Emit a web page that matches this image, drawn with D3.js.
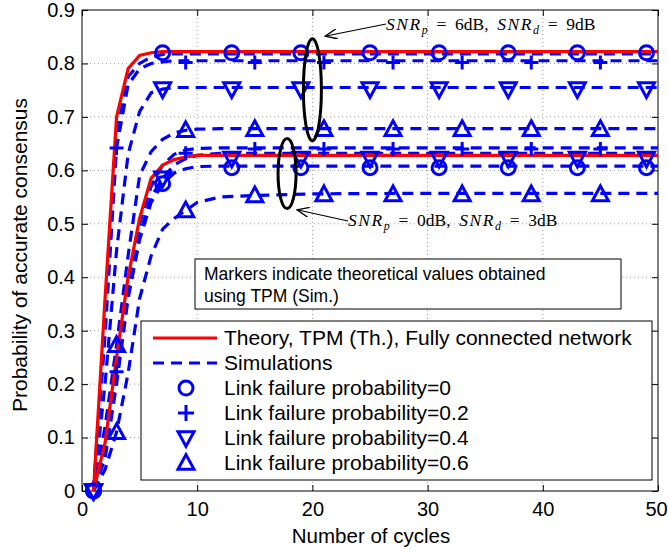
<!DOCTYPE html>
<html>
<head>
<meta charset="utf-8">
<script src="https://d3js.org/d3.v7.min.js"></script>
<style>
    body { margin: 0; background: #fff; }
    svg text { font-family: "Liberation Sans", Arial, Helvetica, sans-serif; }
    .grid line { stroke: #999; stroke-width: 1; stroke-dasharray: 1,3; }
    .math { font-family: "Liberation Serif", "DejaVu Serif", serif; }
</style>
</head>
<body>
<svg id="chart" width="668" height="554"></svg>
<script>
// cycles at which the curves are sampled
var cycles = [1, 2, 3, 4, 5, 6, 7, 8, 9, 10, 12, 15, 20, 30, 40, 50];

// theory (fully connected network)
var theoryHigh = [0, 0.36, 0.70, 0.79, 0.815, 0.82, 0.822, 0.822, 0.822, 0.822, 0.822, 0.822, 0.822, 0.822, 0.822, 0.822];
var theoryLow  = [0, 0.09, 0.25, 0.40, 0.51, 0.585, 0.61, 0.62, 0.625, 0.628, 0.628, 0.628, 0.628, 0.628, 0.628, 0.628];

// simulations, SNRp=6dB, SNRd=9dB
var simHigh0  = [0, 0.32, 0.67, 0.775, 0.80, 0.812, 0.817, 0.818, 0.818, 0.818, 0.818, 0.818, 0.818, 0.818, 0.818, 0.818];
var simHigh02 = [0, 0.29, 0.642, 0.76, 0.79, 0.80, 0.803, 0.805, 0.805, 0.805, 0.805, 0.805, 0.805, 0.805, 0.805, 0.805];
var simHigh04 = [0, 0.20, 0.45, 0.63, 0.71, 0.745, 0.752, 0.755, 0.755, 0.755, 0.755, 0.755, 0.755, 0.755, 0.755, 0.755];
var simHigh06 = [0, 0.12, 0.273, 0.44, 0.59, 0.635, 0.658, 0.67, 0.675, 0.677, 0.678, 0.678, 0.678, 0.678, 0.678, 0.678];

// simulations, SNRp=0dB, SNRd=3dB
var simLow0  = [0, 0.06, 0.20, 0.36, 0.47, 0.54, 0.575, 0.595, 0.603, 0.607, 0.608, 0.608, 0.608, 0.608, 0.608, 0.608];
var simLow02 = [0, 0.08, 0.223, 0.38, 0.50, 0.57, 0.61, 0.63, 0.638, 0.641, 0.642, 0.642, 0.642, 0.642, 0.642, 0.642];
var simLow04 = [0, 0.07, 0.21, 0.37, 0.48, 0.55, 0.585, 0.61, 0.622, 0.628, 0.632, 0.632, 0.632, 0.632, 0.632, 0.632];
var simLow06 = [0, 0.04, 0.11, 0.22, 0.36, 0.44, 0.49, 0.51, 0.525, 0.54, 0.55, 0.553, 0.556, 0.557, 0.557, 0.557];

// TPM (Sim.) markers
var markCyclesA = [1, 7, 13, 19, 25, 31, 37, 43, 49];   // circles, down-triangles
var markCyclesB = [3, 9, 15, 21, 27, 33, 39, 45];       // plus, up-triangles
var mHigh0  = [0, 0.82, 0.82, 0.82, 0.82, 0.82, 0.82, 0.82, 0.82];
var mHigh04 = [0, 0.752, 0.752, 0.752, 0.752, 0.752, 0.752, 0.752, 0.752];
var mHigh02 = [0.642, 0.802, 0.802, 0.802, 0.802, 0.802, 0.802, 0.802];
var mHigh06 = [0.273, 0.675, 0.677, 0.677, 0.677, 0.677, 0.677, 0.677];
var mLow0   = [0, 0.575, 0.605, 0.605, 0.605, 0.605, 0.605, 0.605, 0.605];
var mLow04  = [0, 0.585, 0.622, 0.622, 0.622, 0.622, 0.622, 0.622, 0.622];
var mLow02  = [0.223, 0.632, 0.64, 0.64, 0.64, 0.64, 0.64, 0.64];
var mLow06  = [0.11, 0.525, 0.553, 0.555, 0.555, 0.555, 0.555, 0.555];

var xTicks = [0, 10, 20, 30, 40, 50];
var yTicks = [0, 0.1, 0.2, 0.3, 0.4, 0.5, 0.6, 0.7, 0.8, 0.9];

var legendLabels = ["Theory, TPM (Th.), Fully connected network", "Simulations",
    "Link failure probability=0", "Link failure probability=0.2",
    "Link failure probability=0.4", "Link failure probability=0.6"];

var RED = "#ff0000", BLUE = "#0000ff";

var svg = d3.select("#chart");
var pL = 82, pR = 658, pT = 10, pB = 491;

var x = d3.scaleLinear().domain([0, 50]).range([pL, pR]);
var y = d3.scaleLinear().domain([0, 0.9]).range([pB, pT]);

// grid
var grid = svg.append("g").attr("class", "grid");
grid.selectAll(".gx").data(xTicks.slice(1, -1)).enter().append("line")
    .attr("x1", d => x(d)).attr("x2", d => x(d)).attr("y1", pT).attr("y2", pB);
grid.selectAll(".gy").data(yTicks.slice(1, -1)).enter().append("line")
    .attr("x1", pL).attr("x2", pR).attr("y1", d => y(d)).attr("y2", d => y(d));

// axes (ticks inside, on all four sides)
function styleAxis(g) {
    g.select(".domain").remove();
    g.selectAll(".tick text").attr("font-size", 20).attr("fill", "#000")
        .style("font-family", "'Liberation Sans', Arial, sans-serif");
    g.selectAll(".tick line").attr("stroke", "#000");
}
var xAxisG = svg.append("g").attr("transform", "translate(0," + pB + ")")
    .call(d3.axisBottom(x).tickValues(xTicks).tickSize(-6).tickPadding(11).tickFormat(d3.format("d")))
    .call(styleAxis);
// the last label sits at the window edge, keep it inside
xAxisG.selectAll(".tick text").filter(d => d === 50).attr("dx", -2);
svg.append("g").attr("transform", "translate(0," + pT + ")")
    .call(d3.axisTop(x).tickValues(xTicks).tickSize(-6).tickFormat(""))
    .call(styleAxis);
svg.append("g").attr("transform", "translate(" + pL + ",0)")
    .call(d3.axisLeft(y).tickValues(yTicks).tickSize(-6).tickPadding(7).tickFormat(d => d === 0 ? "0" : d3.format(".1f")(d)))
    .call(styleAxis);
svg.append("g").attr("transform", "translate(" + pR + ",0)")
    .call(d3.axisRight(y).tickValues(yTicks).tickSize(-6).tickFormat(""))
    .call(styleAxis);

svg.append("rect").attr("x", pL).attr("y", pT).attr("width", pR - pL).attr("height", pB - pT)
    .attr("fill", "none").attr("stroke", "#000").attr("stroke-width", 1);

// curves
var line = d3.line().x((d, i) => x(cycles[i])).y(d => y(d));
var simSeries = [simHigh06, simHigh04, simHigh02, simHigh0, simLow06, simLow04, simLow02, simLow0];
simSeries.forEach(function (s) {
    svg.append("path").datum(s).attr("d", line)
        .attr("fill", "none").attr("stroke", BLUE).attr("stroke-width", 3.2)
        .attr("stroke-dasharray", "11,7");
});
[theoryHigh, theoryLow].forEach(function (s) {
    svg.append("path").datum(s).attr("d", line)
        .attr("fill", "none").attr("stroke", RED).attr("stroke-width", 3.2);
});

// markers
function markerPath(type, s) {
    if (type === "circle") return d3.symbol().type(d3.symbolCircle).size(Math.PI * s * s)();
    if (type === "plus") return "M" + (-s) + ",0H" + s + "M0," + (-s) + "V" + s;
    var h = s * 1.05, w = s;
    if (type === "up") return "M0," + (-h) + "L" + w + "," + (h * 0.75) + "L" + (-w) + "," + (h * 0.75) + "Z";
    return "M0," + h + "L" + w + "," + (-h * 0.75) + "L" + (-w) + "," + (-h * 0.75) + "Z";
}
var markerSets = [
    { xs: markCyclesA, ys: mHigh0, type: "circle", s: 7 },
    { xs: markCyclesA, ys: mLow0, type: "circle", s: 7 },
    { xs: markCyclesA, ys: mHigh04, type: "down", s: 8 },
    { xs: markCyclesA, ys: mLow04, type: "down", s: 8 },
    { xs: markCyclesB, ys: mHigh02, type: "plus", s: 7 },
    { xs: markCyclesB, ys: mLow02, type: "plus", s: 7 },
    { xs: markCyclesB, ys: mHigh06, type: "up", s: 8 },
    { xs: markCyclesB, ys: mLow06, type: "up", s: 8 }
];
markerSets.forEach(function (m) {
    svg.append("g").selectAll("path").data(m.ys).enter().append("path")
        .attr("d", markerPath(m.type, m.s))
        .attr("transform", (d, i) => "translate(" + x(m.xs[i]) + "," + y(d) + ")")
        .attr("fill", "none").attr("stroke", BLUE).attr("stroke-width", 3);
});

// ellipses and arrows
svg.append("ellipse").attr("cx", x(20)).attr("cy", y(0.751)).attr("rx", 9).attr("ry", 51)
    .attr("fill", "none").attr("stroke", "#000").attr("stroke-width", 3);
svg.append("ellipse").attr("cx", x(17.8)).attr("cy", y(0.594)).attr("rx", 9).attr("ry", 35)
    .attr("fill", "none").attr("stroke", "#000").attr("stroke-width", 3);

svg.append("defs").append("marker").attr("id", "ah").attr("viewBox", "0 0 12 10")
    .attr("refX", 11).attr("refY", 5).attr("markerWidth", 14).attr("markerHeight", 10)
    .attr("markerUnits", "userSpaceOnUse").attr("orient", "auto")
    .append("path").attr("d", "M0,0L12,5L0,10").attr("fill", "none").attr("stroke", "#000").attr("stroke-width", 1.3);

svg.append("line").attr("x1", 386).attr("y1", 24).attr("x2", 326).attr("y2", 36)
    .attr("stroke", "#000").attr("stroke-width", 1.2).attr("marker-end", "url(#ah)");
svg.append("line").attr("x1", 348).attr("y1", 221).attr("x2", 298).attr("y2", 210)
    .attr("stroke", "#000").attr("stroke-width", 1.2).attr("marker-end", "url(#ah)");

function snrLabel(xp, yp, p, d) {
    var t = svg.append("text").attr("class", "math").attr("x", xp).attr("y", yp)
        .attr("font-size", 17.5).attr("fill", "#000");
    t.append("tspan").attr("font-style", "italic").attr("letter-spacing", 1.5).text("SNR");
    t.append("tspan").attr("font-style", "italic").attr("font-size", 12).attr("dy", 4).text("p");
    t.append("tspan").attr("dy", -4).text("\u2002=\u2002" + p + "dB,\u2002");
    t.append("tspan").attr("font-style", "italic").attr("letter-spacing", 1.5).text("SNR");
    t.append("tspan").attr("font-style", "italic").attr("font-size", 12).attr("dy", 4).text("d");
    t.append("tspan").attr("dy", -4).text("\u2002=\u2002" + d + "dB");
}
snrLabel(386, 30, 6, 9);
snrLabel(348, 226, 0, 3);

// note box
svg.append("rect").attr("x", 195).attr("y", 259).attr("width", 426).attr("height", 50)
    .attr("fill", "#fff").attr("stroke", "#000").attr("stroke-width", 1);
svg.append("text").attr("x", 204).attr("y", 280).attr("font-size", 17.5).text("Markers indicate theoretical values obtained");
svg.append("text").attr("x", 204).attr("y", 302).attr("font-size", 17.5).text("using TPM (Sim.)");

// legend
var lg = svg.append("g");
lg.append("rect").attr("x", 141).attr("y", 321).attr("width", 511).attr("height", 159)
    .attr("fill", "#fff").attr("stroke", "#000").attr("stroke-width", 1);
var legendY = d3.scalePoint().domain(d3.range(legendLabels.length)).range([338, 463]);
lg.append("line").attr("x1", 153).attr("x2", 217).attr("y1", legendY(0)).attr("y2", legendY(0))
    .attr("stroke", RED).attr("stroke-width", 3.2);
lg.append("line").attr("x1", 153).attr("x2", 217).attr("y1", legendY(1)).attr("y2", legendY(1))
    .attr("stroke", BLUE).attr("stroke-width", 3.2).attr("stroke-dasharray", "11,7");
["circle", "plus", "down", "up"].forEach(function (t, i) {
    lg.append("path").attr("d", markerPath(t, t === "circle" ? 7 : 8))
        .attr("transform", "translate(186," + legendY(i + 2) + ")")
        .attr("fill", "none").attr("stroke", BLUE).attr("stroke-width", 3);
});
lg.selectAll("text.lt").data(legendLabels).enter().append("text")
    .attr("x", 224).attr("y", (d, i) => legendY(i) + 7)
    .attr("font-size", 21).attr("fill", "#000").text(d => d);

// axis labels
svg.append("text").attr("x", 371).attr("y", 543).attr("text-anchor", "middle")
    .attr("font-size", 20.5).text("Number of cycles");
svg.append("text").attr("transform", "translate(27,255) rotate(-90)")
    .attr("text-anchor", "middle").attr("font-size", 21).text("Probability of accurate consensus");
</script>
</body>
</html>
